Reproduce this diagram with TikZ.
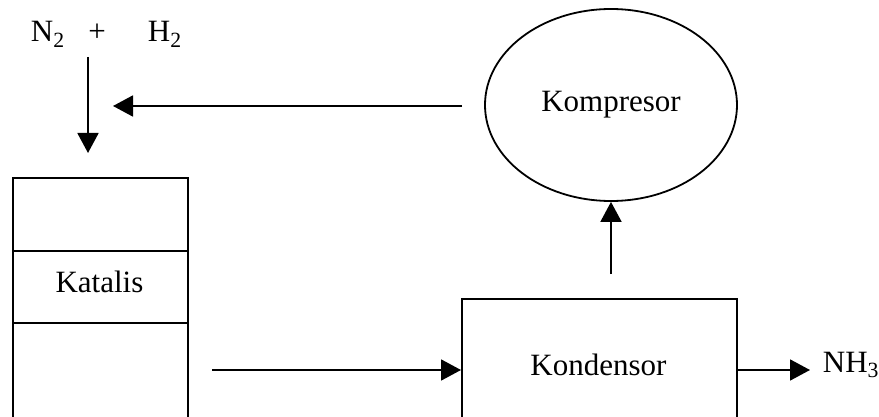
\documentclass[tikz,border=0pt]{standalone}
\usepackage{fontspec}
\setmainfont{Liberation Serif}
\usetikzlibrary{arrows.meta,shapes.geometric}
\begin{document}
\begin{tikzpicture}[x=1pt,y=-1pt,
  line width=1.8pt,
  lbl/.style={inner sep=0pt,font=\fontsize{31}{36}\selectfont},
  blk/.style={draw,rectangle,inner sep=0pt,anchor=north west},
  flow/.style={-{Triangle[length=20pt,width=21pt]}}]
\useasboundingbox (0,0) rectangle (879,417);
% reactor stack
\node[blk,minimum width=175pt,minimum height=73pt] (top) at (12,177) {};
\node[blk,minimum width=175pt,minimum height=72pt] (mid) at (12,250) {};
\node[blk,minimum width=175pt,minimum height=100pt] (bot) at (12,322) {};
\node[lbl,anchor=base] (katalis) at (99.5,292) {Katalis};
% condenser
\node[blk,minimum width=275pt,minimum height=125pt] (kond) at (461,298) {};
\node[lbl,anchor=base] (kondt) at (598.5,375) {Kondensor};
% compressor
\node[draw,ellipse,inner sep=0pt,minimum width=252pt,minimum height=192pt] (komp) at (611,105) {};
\node[lbl,anchor=base] (kompt) at (611,112) {Kompresor};
% feed labels
\node[lbl,anchor=base west] (n2) at (30,42) {N\textsubscript{2}};
\node[lbl,anchor=base] (plus) at (97,42) {+};
\node[lbl,anchor=base west] (h2) at (147,42) {H\textsubscript{2}};
\node[lbl,anchor=base west] (nh3) at (822,372) {NH\textsubscript{3}};
% connectors
\coordinate (feedS) at (88,57);
\coordinate (feedE) at (88,153);
\coordinate (recS) at (462,106);
\coordinate (recE) at (113,106);
\coordinate (outS) at (212,370);
\coordinate (upS) at (611,274);
\coordinate (prodE) at (810,370);
\draw[flow] (feedS) -- (feedE);
\draw[flow] (recS) -- (recE);
\draw[flow] (outS) -- (outS -| kond.west);
\draw[flow] (upS) -- (komp.south);
\draw[flow] (prodE -| kond.east) -- (prodE);
\end{tikzpicture}
\end{document}
